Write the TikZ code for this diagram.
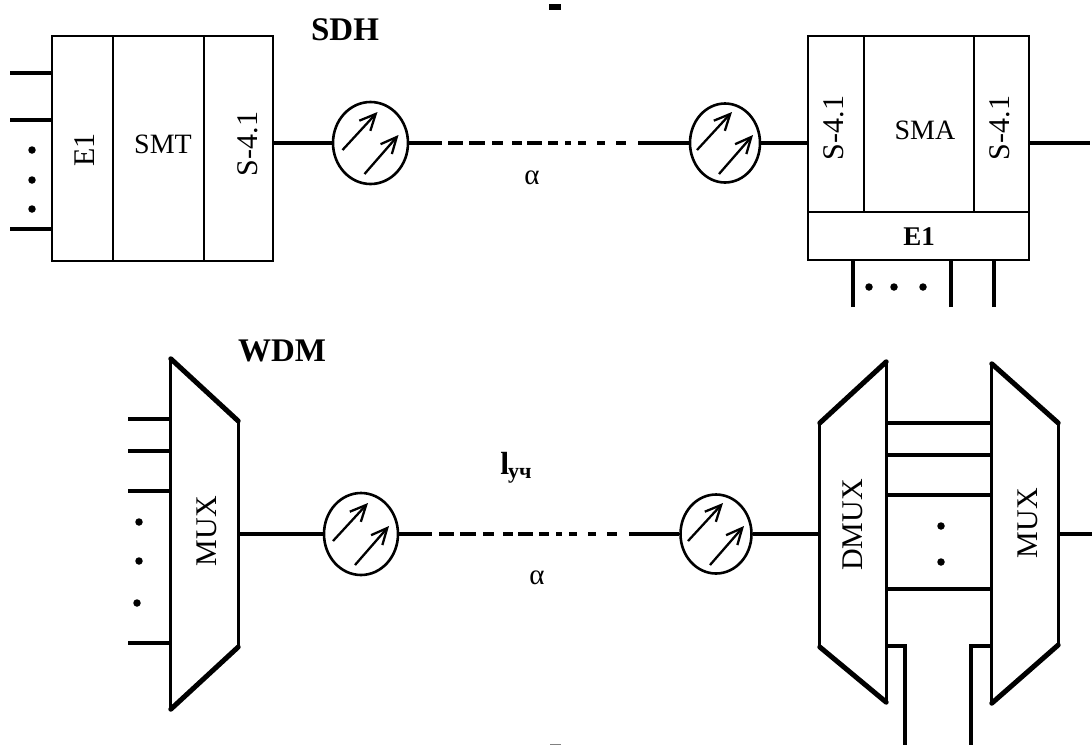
\documentclass[tikz,border=0pt]{standalone}
\usepackage{fontspec}
\setmainfont{Liberation Serif}
\usetikzlibrary{arrows.meta,positioning,calc,shapes.geometric}
\tikzset{
  wire/.style={line width=3.2pt},
  slant/.style={line width=5pt,line cap=round},
  boxpart/.style={draw,line width=2.3pt,inner sep=0pt},
  hidden/.style={inner sep=0pt},
  amp/.style={ellipse,draw,line width=2.6pt,minimum width=72pt,minimum height=80pt,inner sep=0pt},
  ampray/.style={line width=2.3pt,-{Straight Barb[length=16pt,width=15pt,line width=2.3pt]}},
  span/.style={line width=3.2pt,dash pattern=on 15pt off 6pt on 16pt off 7pt on 11pt off 9pt on 10pt off 5pt on 15pt off 6pt on 10pt off 7pt on 6pt off 7pt on 8pt off 11pt on 8pt off 11pt on 10pt off 12pt},
  dot/.style={circle,fill=black,minimum size=7.5pt,inner sep=0pt},
  lbl/.style={font=\fontsize{28}{30}\selectfont},
  vlbl/.style={font=\fontsize{30}{32}\selectfont,rotate=90},
  head/.style={font=\fontsize{33}{35}\selectfont\bfseries},
  sym/.style={font=\fontsize{29}{30}\selectfont}
}
\begin{document}
\begin{tikzpicture}[x=1pt,y=-1pt]
  \useasboundingbox (0,0) rectangle (1092,745);
  % SDH terminal
  \node[boxpart,minimum width=61pt,minimum height=225pt] (e1t) at (82.5,148.5) {};
  \node[boxpart,minimum width=91pt,minimum height=225pt] (smt) at (158.5,148.5) {};
  \node[boxpart,minimum width=69pt,minimum height=225pt] (s41t) at (238.5,148.5) {};
  \node[vlbl] (e1ttext) at (85,150) {E1};
  \node[lbl] (smttext) at (163,144) {SMT};
  \node[vlbl] (s41ttext) at (248,144) {S-4.1};
  \foreach \n/\y in {1/73,2/120,3/229} {
    \coordinate (in\n) at (10,\y);
    \draw[wire] (in\n) -- (in\n -| e1t.west);
  }
  \foreach \n/\y in {1/150,2/180,3/209}
    \node[dot] (td\n) at (32,\y) {};
  \node[head] (sdh) at (345,30) {SDH};
  % SDH add-drop
  \node[boxpart,minimum width=56pt,minimum height=176pt] (s41a) at (836,124) {};
  \node[boxpart,minimum width=110pt,minimum height=176pt] (sma) at (919,124) {};
  \node[boxpart,minimum width=55pt,minimum height=176pt] (s41b) at (1001.5,124) {};
  \node[boxpart,minimum width=221pt,minimum height=48pt] (e1a) at (918.5,236) {};
  \node[vlbl] (s41atext) at (834,128) {S-4.1};
  \node[lbl] (smatext) at (925,130) {SMA};
  \node[vlbl] (s41btext) at (1000,128) {S-4.1};
  \node[lbl,font=\fontsize{27}{30}\selectfont\bfseries] (e1atext) at (919,237) {E1};
  \foreach \n/\x in {1/853,2/951,3/994} {
    \coordinate (st\n) at (\x,307);
    \draw[wire] (st\n) -- (st\n |- e1a.south);
  }
  \foreach \n/\x in {1/869,2/894,3/923}
    \node[dot] (ad\n) at (\x,287) {};
  % SDH line
  \node[amp,minimum width=75pt,minimum height=82pt] (a1) at (370.5,143) {};
  \node[amp,minimum width=70pt,minimum height=79pt] (a2) at (725,143) {};
  \coordinate (g1) at (442,143);
  \coordinate (g2) at (448,143);
  \coordinate (g3) at (638,143);
  \coordinate (outa) at (1090,143);
  \draw[wire] (s41t.east |- a1) -- (a1);
  \draw[wire] (a1.east) -- (g1);
  \draw[span] (g2) -- (g3);
  \draw[wire] (g3) -- (a2.west);
  \draw[wire] (a2.east) -- (a2 -| s41a.west);
  \draw[wire] (s41b.east |- outa) -- (outa);
  \node[sym] (alpha1) at (532,178) {α};
  % WDM mux
  \node[hidden,minimum width=67pt,minimum height=350pt] (muxa) at (204.5,534) {};
  \draw[wire] (muxa.north west) -- (muxa.south west);
  \draw[wire] (muxa.east |- 0,421) -- (muxa.east |- 0,647);
  \draw[slant] (muxa.north west) -- (muxa.east |- 0,421);
  \draw[slant] (muxa.south west) -- (muxa.east |- 0,647);
  \node[vlbl] (muxatext) at (207,531) {MUX};
  \foreach \n/\y in {1/419,2/451,3/491,4/643} {
    \coordinate (im\n) at (128,\y);
    \draw[wire] (im\n) -- (im\n -| muxa.west);
  }
  \foreach \n/\x/\y in {1/139/522,2/139/561,3/137/603}
    \node[dot] (md\n) at (\x,\y) {};
  \node[head] (wdm) at (282,351) {WDM};
  % WDM far end
  \node[hidden,minimum width=66pt,minimum height=340pt] (dmux) at (853,532) {};
  \draw[wire] (dmux.north east) -- (dmux.south east);
  \draw[wire] (dmux.west |- 0,423) -- (dmux.west |- 0,647);
  \draw[slant] (dmux.north east) -- (dmux.west |- 0,423);
  \draw[slant] (dmux.south east) -- (dmux.west |- 0,647);
  \node[vlbl] (dmuxtext) at (853,525) {DMUX};
  \node[hidden,minimum width=66pt,minimum height=339pt] (muxb) at (1025,533.5) {};
  \draw[wire] (muxb.north west) -- (muxb.south west);
  \draw[wire] (muxb.east |- 0,423) -- (muxb.east |- 0,645);
  \draw[slant] (muxb.north west) -- (muxb.east |- 0,423);
  \draw[slant] (muxb.south west) -- (muxb.east |- 0,645);
  \node[vlbl] (muxbtext) at (1028,523) {MUX};
  \foreach \n/\y in {1/423,2/455,3/495,4/589} {
    \coordinate (mm\n) at (dmux.east |- 0,\y);
    \draw[wire] (mm\n) -- (mm\n -| muxb.west);
  }
  \foreach \n/\y in {1/526,2/562}
    \node[dot] (dd\n) at (941,\y) {};
  \coordinate (fa) at (905,745);
  \coordinate (fb) at (971,745);
  \draw[wire] (dmux.east |- 0,646) -| (fa);
  \draw[wire] (muxb.west |- 0,646) -| (fb);
  % WDM line
  \node[amp,minimum width=74pt,minimum height=82pt] (a3) at (361,534) {};
  \node[amp,minimum width=71pt,minimum height=79pt] (a4) at (716,534) {};
  \coordinate (g4) at (432,534);
  \coordinate (g5) at (439,534);
  \coordinate (g6) at (630,534);
  \coordinate (outb) at (1092,534);
  \draw[wire] (muxa.east |- a3) -- (a3);
  \draw[wire] (a3.east) -- (g4);
  \draw[span] (g5) -- (g6);
  \draw[wire] (g6) -- (a4.west);
  \draw[wire] (a4.east) -- (a4 -| dmux.west);
  \draw[wire] (muxb.east |- outb) -- (outb);
  \node[sym] (alpha2) at (537,578) {α};
  \node[font=\fontsize{32}{34}\selectfont\bfseries] (lz) at (516,468) {l\kern-1pt\raisebox{-4pt}{\fontsize{22}{24}\selectfont уч}};
  % rays inside the amplifiers
  \foreach \c in {a1,a2,a3,a4} {
    \draw[ampray] ($(\c)+(-28,7)$) -- ($(\c)+(7,-31)$);
    \draw[ampray] ($(\c)+(-6,31)$) -- ($(\c)+(28,-8)$);
  }
  % scan marks
  \fill (549,4) rectangle (561,10);
  \fill[gray] (550,744) rectangle (561,745);
\end{tikzpicture}
\end{document}
